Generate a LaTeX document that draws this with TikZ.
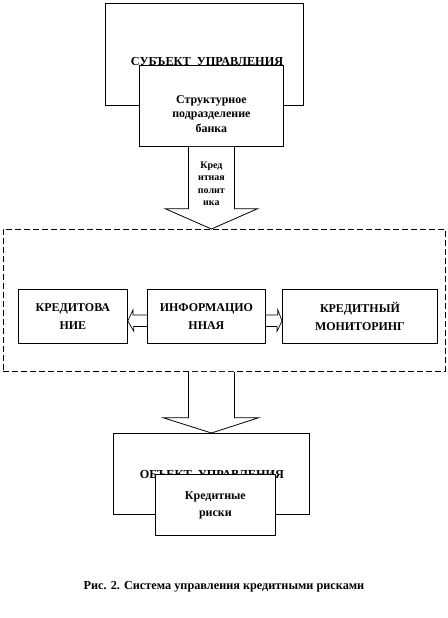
\documentclass[tikz,border=0pt]{standalone}
\usepackage{fontspec}
\setmainfont{Liberation Serif}
\usetikzlibrary{calc}

\begin{document}
\begin{tikzpicture}[
    x=1bp,y=-1bp,
    box/.style={rectangle,draw,fill=white,line width=0.8pt,inner sep=0pt,anchor=north west,align=center,font=\bfseries\fontsize{12}{18}\selectfont},
    title/.style={anchor=base,inner sep=0pt,font=\bfseries\fontsize{12.3}{14}\selectfont},
    hollow/.style={draw,fill=white,line width=0.8pt,line join=miter},
    thin/.style={draw,line width=0.7pt}
]
    \useasboundingbox (0,0) rectangle (448,618);

    % Subject
    \node[box,minimum width=198bp,minimum height=102bp] (subj) at (105,3) {};
    \node[title] (subjtitle) at (207,66) {СУБЪЕКТ\ \ УПРАВЛЕНИЯ};
    \node[box,minimum width=144bp,minimum height=81bp] (struct) at (139,65) {};
    \node[align=center,inner sep=0pt,font=\bfseries\fontsize{12}{14.5}\selectfont] (structtext) at ($(struct.center)+(0,8)$) {Структурное\\подразделение\\банка};

    % Arrow down to the system
    \draw[hollow] ($(struct.south)+(-23,0)$) -- ++(0,62) -- ++(-23,0) -- (struct.south |- 0,229)
        -- ($(struct.south)+(46,62)$) -- ++(-23,0) -- ($(struct.south)+(23,0)$);
    \node[align=center,inner sep=0pt,font=\bfseries\fontsize{10}{12.7}\selectfont] (policy) at ($(struct.south)+(0,37)$) {Кред\\итная\\полит\\ика};

    % System
    \node[box,dash pattern=on 6bp off 3bp,fill=none,minimum width=442bp,minimum height=142bp] (frame) at (3,229) {};
    \node[box,minimum width=109bp,minimum height=54bp] (kred) at (18,289) {КРЕДИТОВА\\НИЕ};
    \node[box,minimum width=118bp,minimum height=54bp] (info) at (147,289) {ИНФОРМАЦИО\\ННАЯ};
    \node[box,minimum width=155bp,minimum height=54bp] (monit) at (282,289) {КРЕДИТНЫЙ\\МОНИТОРИНГ};

    \draw[thin] ($(info.west)+(0,-1.5)$) -- ++(-14,0) -- ++(0,-5) -- ($(kred.east)+(0,4.5)$)
        -- ($(kred.east)+(6,15)$) -- ++(0,-5) -- ($(info.west)+(0,10)$);
    \draw[thin] ($(info.east)+(0,-1.5)$) -- ++(12,0) -- ++(0,-5) -- ($(monit.west)+(0,4.5)$)
        -- ($(monit.west)+(-5,15)$) -- ++(0,-5) -- ($(info.east)+(0,10)$);

    % Object
    \node[box,minimum width=196bp,minimum height=81bp] (obj) at (113,433) {};
    \coordinate (down) at (obj.north |- frame.south);
    \draw[hollow] ($(down)+(-23,0)$) -- ++(0,46) -- ++(-25,0) -- (obj.north)
        -- ($(down)+(47,46)$) -- ++(-24,0) -- ($(down)+(23,0)$);
    \node[title] (objtitle) at (212,478) {ОБЪЕКТ\ \ УПРАВЛЕНИЯ};
    \node[box,minimum width=120bp,minimum height=61bp,font=\bfseries\fontsize{12}{17}\selectfont] (risk) at (155,474) {Кредитные\\риски};

    % Caption
    \node[title,font=\bfseries\fontsize{12.3}{14}\selectfont] (caption) at (224,589) {Рис. 2. Система управления кредитными рисками};
\end{tikzpicture}
\end{document}
